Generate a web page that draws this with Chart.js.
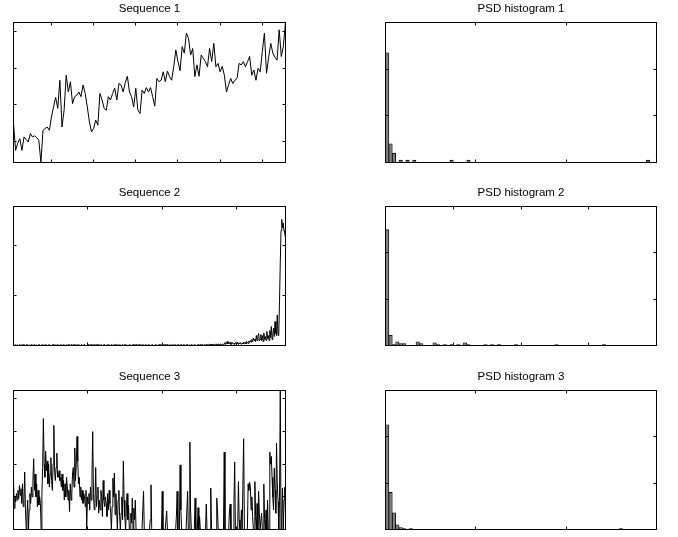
<!DOCTYPE html>
<html>
<head>
<meta charset="utf-8">
<title>Sequences and PSD histograms</title>
<script src="https://cdn.jsdelivr.net/npm/chart.js@4.4.1/dist/chart.umd.min.js"></script>
<style>
  html, body { margin: 0; padding: 0; background: #fff; }
  #page { position: relative; width: 678px; height: 537px; overflow: hidden; }
  #page canvas { position: absolute; }
</style>
</head>
<body>
<div id="page">
  <canvas id="seq1" width="280" height="166" style="left:10px;top:0px"></canvas>
  <canvas id="psd1" width="280" height="166" style="left:382px;top:0px"></canvas>
  <canvas id="seq2" width="280" height="165" style="left:10px;top:184px"></canvas>
  <canvas id="psd2" width="280" height="165" style="left:382px;top:184px"></canvas>
  <canvas id="seq3" width="280" height="165" style="left:10px;top:368px"></canvas>
  <canvas id="psd3" width="280" height="165" style="left:382px;top:368px"></canvas>
</div>
<script>
(function () {
  'use strict';

  /* ── Data ────────────────────────────────────────────────────────── */

  // Sequence 1: 130 samples, x = 2..131
  var seq1Start = 2;
  var seq1 = [
    1.49, 0.75, 0.95, 1.07, 0.75, 1.12, 1.05, 0.98, 1.21, 1.12,
    1.15, 1.10, 1.03, 0.42, 1.30, 1.35, 1.39, 1.30, 1.67, 1.94,
    2.20, 1.90, 2.67, 1.39, 1.85, 2.81, 2.35, 2.63, 2.03, 2.22,
    2.26, 2.35, 2.22, 2.54, 2.31, 1.94, 1.53, 1.26, 1.35, 1.58,
    1.44, 2.31, 2.13, 1.90, 1.85, 2.22, 2.13, 2.31, 2.45, 2.13,
    2.58, 2.54, 2.35, 2.60, 2.78, 2.35, 2.22, 1.94, 2.45, 1.85,
    1.76, 2.40, 2.31, 2.47, 2.35, 2.47, 2.22, 1.96, 2.72, 2.63,
    2.67, 2.90, 2.63, 2.92, 2.77, 2.67, 3.04, 3.50, 3.18, 2.93,
    3.59, 3.41, 3.96, 3.82, 3.36, 3.54, 2.77, 3.09, 2.78, 3.36,
    3.27, 3.18, 3.04, 3.54, 3.18, 3.68, 3.04, 3.13, 2.90, 3.05,
    2.81, 2.35, 2.55, 2.72, 2.58, 2.67, 2.72, 3.13, 3.09, 3.18,
    3.04, 3.18, 3.32, 2.81, 2.95, 2.67, 3.00, 2.90, 3.45, 3.96,
    2.86, 3.30, 3.68, 3.41, 3.30, 3.22, 4.05, 3.32, 3.60, 4.25
  ];

  // Sequence 2: 365 samples, x = 1..365
  var seq2Start = 1;
  var seq2 = [
    0.01, 0, 0.01, 0.02, 0, 0.01, 0.01, 0, 0.02, 0.01, 0, 0.01, 0.01, 0.02, 0, 0.01, 0, 0.01, 0.02, 0.01,
    0, 0.01, 0.01, 0, 0.02, 0.01, 0, 0.01, 0.02, 0, 0.01, 0.01, 0, 0.01, 0.02, 0.01, 0, 0.01, 0, 0.02,
    0.01, 0.01, 0, 0.02, 0.01, 0, 0.01, 0.01, 0.02, 0, 0.01, 0, 0.01, 0.02, 0.01, 0, 0.01, 0.01, 0, 0.02,
    0.01, 0, 0.01, 0.01, 0.02, 0, 0.01, 0.02, 0.01, 0, 0.01, 0.01, 0, 0.02, 0.01, 0.01, 0, 0.01, 0.02, 0,
    0.01, 0.02, 0, 0.01, 0.01, 0, 0.02, 0.01, 0.01, 0, 0.01, 0.02, 0, 0.01, 0.01, 0.02, 0, 0.01, 0, 0.01,
    0.02, 0.01, 0, 0.01, 0.02, 0.01, 0, 0.01, 0.01, 0.02, 0, 0.01, 0.02, 0, 0.01, 0.01, 0, 0.02, 0.01, 0,
    0.01, 0.01, 0.02, 0, 0.01, 0, 0.01, 0.02, 0.01, 0.01, 0, 0.02, 0.01, 0, 0.01, 0.01, 0.02, 0, 0.01, 0.01,
    0, 0.02, 0.01, 0.01, 0, 0.01, 0.02, 0, 0.01, 0.01, 0.02, 0.01, 0, 0.01, 0, 0.02, 0.01, 0.01, 0, 0.01,
    0.02, 0, 0.01, 0.01, 0.02, 0.01, 0, 0.01, 0.02, 0, 0.01, 0.01, 0, 0.02, 0.01, 0, 0.01, 0.02, 0.01, 0,
    0.01, 0.02, 0.01, 0, 0.01, 0.01, 0.02, 0, 0.01, 0, 0.02, 0.01, 0.01, 0, 0.01, 0.02, 0, 0.01, 0.01, 0.02,
    0, 0.01, 0.01, 0.02, 0, 0.01, 0.02, 0.01, 0, 0.01, 0.01, 0, 0.02, 0.01, 0.01, 0, 0.02, 0.01, 0, 0.01,
    0.01, 0.02, 0, 0.01, 0.01, 0.02, 0, 0.01, 0.02, 0.01, 0, 0.01, 0.01, 0.02, 0, 0.01, 0.01, 0, 0.02, 0.01,
    0.01, 0, 0.02, 0.01, 0.01, 0, 0.01, 0.02, 0.01, 0, 0.02, 0.01, 0.01, 0.02, 0, 0.01, 0.02, 0.01, 0.02, 0.01,
    0.02, 0.01, 0.02, 0.03, 0.01, 0.02, 0.01, 0.03, 0.02, 0.01, 0.02, 0.03, 0.02, 0.01, 0.03, 0.02, 0.02, 0.03, 0.01, 0.02,
    0.03, 0.02, 0.03,
    0.06, 0.02, 0.05, 0.08, 0.03, 0.06, 0.04, 0.07, 0.02, 0.04,
    0.06, 0.03, 0.05, 0.02, 0.06, 0.04, 0.03, 0.07, 0.02, 0.05,
    0.04, 0.06, 0.02, 0.05, 0.03, 0.07, 0.04, 0.06, 0.03, 0.08,
    0.05, 0.04, 0.09, 0.06, 0.10, 0.07, 0.12, 0.08, 0.15, 0.10,
    0.13, 0.08, 0.20, 0.10, 0.18, 0.24, 0.09, 0.12, 0.22, 0.10,
    0.20, 0.08, 0.25, 0.12, 0.18, 0.10, 0.28, 0.14, 0.20, 0.10,
    0.30, 0.16, 0.38, 0.12, 0.22, 0.35, 0.18, 0.48, 0.25, 0.20,
    0.61, 0.20, 0.22, 0.90, 1.65, 2.30, 2.52, 2.35, 2.45, 2.30,
    2.25, 2.15
  ];

  // Sequence 3: 365 samples, x = 1..365
  var seq3Start = 1;
  var seq3 = [
    1.52, 0.65, 1.0, 0.85, 1.1, 0.9, 1.2, 0.95, 1.35, 1.05,
    1.25, 0.8, 1.4, 0.7, 0.9, 1.76, 0.6, 0, 0.45, 0.9,
    0, 0.6, 1.1, 0.8, 1.3, 1.0, 1.5, 2.17, 1.2, 1.7,
    1.0, 1.4, 0.7, 1.2, 0.75, 1.0, 0.8, 0, 1.1, 1.9,
    3.4, 2.0, 1.6, 2.4, 1.8, 2.1, 1.4, 2.0, 1.3, 1.7,
    2.2, 1.5, 1.2, 2.0, 3.19, 1.8, 1.5, 1.9, 2.34, 1.6,
    1.6, 1.8, 1.5, 1.6, 1.3, 1.7, 1.2, 1.5, 0.9, 1.4,
    1.0, 1.6, 1.3, 0.9, 1.2, 0.55, 1.4, 0.9, 1.1, 1.7,
    1.9, 1.3, 2.5, 1.5, 2.0, 2.85, 2.1, 1.4, 1.6, 1.0,
    1.3, 0.9, 1.2, 0.8, 1.1, 1.0, 0.7, 1.2, 0, 1.0,
    0.8, 1.1, 0.6, 1.3, 0.9, 1.6, 3.0, 1.1, 0.6, 0.8,
    1.9, 0.7, 1.0, 1.3, 0.5, 0.9, 0.6, 1.2, 1.0, 0.4,
    1.5, 0.9, 0.7, 1.0, 0.8, 0.4, 1.1, 0.6, 1.2, 0.8,
    0.5, 0, 0.7, 1.57, 1.0, 1.73, 0.45, 1.1, 0.6, 0,
    0.9, 1.2, 0.4, 0, 0.5, 1.0, 0.3, 2.1, 0.9, 0.4,
    0, 0.6, 1.1, 0.3, 0.75, 0, 0, 0.5, 0.2, 0.96,
    0, 0.65, 0.3, 0.9, 0, 0, 0, 0, 0, 0,
    0, 0, 0, 0, 1.17, 0, 0, 0, 0, 0,
    0, 0, 0, 0.3, 1.37, 0, 0, 0, 0, 0,
    0, 0, 0, 0, 0, 0, 0, 0, 0, 1.17,
    0, 0, 0, 0, 0, 0.57, 0, 0, 0, 0,
    0, 0, 0, 0, 0, 0, 0, 0, 0.4, 1.17,
    0, 0, 0, 1.98, 0.6, 0, 0, 0, 0, 0,
    0, 0, 0, 1.17, 0, 0, 2.68, 0.57, 0, 0,
    0, 0, 0, 0.96, 0, 0, 0, 0.67, 0, 0.4,
    0, 0, 0, 0, 0, 0, 0, 0, 0.78, 0,
    0, 0, 0, 0, 1.27, 0, 0, 0, 0, 0,
    0, 0, 0.96, 0.57, 0, 0, 0, 0, 0, 0,
    0, 0, 2.37, 0, 0, 0, 0, 0, 0, 0.57,
    0.78, 0, 0, 0, 0, 0.8, 2.07, 0, 0, 0,
    0, 1.47, 0.3, 0, 0, 0.6, 0, 0, 2.78, 0,
    0, 0, 0, 0, 1.4, 1.2, 1.45, 1.27, 0.6, 1.0,
    0.4, 0, 0, 1.47, 0.4, 0, 0.8, 0, 1.17, 0.5,
    0, 0, 0.5, 0, 0, 1.39, 0.3, 0, 0.6, 0,
    0.9, 0, 0, 2.37, 2.0, 2.24, 1.6, 1.0, 0.6, 1.88,
    1.2, 0.5, 2.65, 1.4, 0.86, 0, 1.0, 4.26, 0, 0.4,
    1.27, 0, 0.9, 1.3, 0.5
  ];

  // PSD histograms: counts in 80 equal bins
  var psd1Counts = [
    47, 8, 4, 0, 1, 0, 1, 0, 1, 0, 0, 0, 0, 0, 0, 0, 0, 0, 0, 1,
    0, 0, 0, 0, 1, 0, 0, 0, 0, 0, 0, 0, 0, 0, 0, 0, 0, 0, 0, 0,
    0, 0, 0, 0, 0, 0, 0, 0, 0, 0, 0, 0, 0, 0, 0, 0, 0, 0, 0, 0,
    0, 0, 0, 0, 0, 0, 0, 0, 0, 0, 0, 0, 0, 0, 0, 0, 0, 1, 0, 0
  ];
  var psd2Counts = [
    125, 11, 1, 4, 2, 2, 0, 0, 0, 4, 2, 0, 0, 0, 3, 1, 0, 1, 0, 1,
    0, 1, 0, 3, 1, 0, 0, 0, 0, 1, 0, 1, 0, 1, 0, 0, 0, 0, 1, 0,
    0, 0, 0, 0, 0, 0, 0, 0, 0, 0, 1, 0, 0, 0, 0, 0, 0, 0, 0, 0,
    0, 0, 0, 0, 1, 0, 0, 0, 0, 0, 0, 0, 0, 0, 0, 0, 0, 0, 0, 0
  ];
  var psd3Counts = [
    113, 40, 18, 5, 2, 1, 0, 1, 0, 0, 0, 0, 0, 0, 0, 0, 0, 0, 0, 0,
    0, 0, 0, 0, 0, 0, 0, 0, 0, 0, 0, 0, 0, 0, 0, 0, 0, 0, 0, 0,
    0, 0, 0, 0, 0, 0, 0, 0, 0, 0, 0, 0, 0, 0, 0, 0, 0, 0, 0, 0,
    0, 0, 0, 0, 0, 0, 0, 0, 0, 1, 0, 0, 0, 0, 0, 0, 0, 0, 0, 0
  ];

  // Axis limits and tick positions (no tick labels in the figure)
  var seq1XTicks = [20, 40, 60, 80, 100, 120];
  var seq1YTicks = [1, 2, 3, 4];
  var seq23XTicks = [100, 200, 300];
  var seq2YTicks = [1, 2];
  var seq2YMax = 2.78;
  var seq3YTicks = [1, 2, 3, 4];
  var psd13XMax = 3;
  var psd2XMax = 4;
  var psd13XTicks = [1, 2];
  var psd2XTicks = [1, 2, 3];
  var psd1YMax = 60;
  var psd1YTicks = [20, 40];
  var psd23YMax = 150;
  var psd23YTicks = [50, 100];

  /* ── Style ───────────────────────────────────────────────────────── */

  var FONT_FAMILY = "'Liberation Sans', Arial, Helvetica, sans-serif";
  var TICK_LEN = 3;
  var BAR_FILL = '#808080';

  Chart.defaults.font.family = FONT_FAMILY;
  Chart.defaults.color = '#000';
  Chart.defaults.animation = false;

  /* ── Helpers ─────────────────────────────────────────────────────── */

  // MATLAB-like box with inward ticks on all four sides
  function boxPlugin(xTicks, yTicks) {
    return {
      id: 'matlabBox',
      afterDraw: function (chart) {
        var a = chart.chartArea;
        var ctx = chart.ctx;
        var xs = chart.scales.x;
        var ys = chart.scales.y;
        ctx.save();
        ctx.strokeStyle = '#000';
        ctx.lineWidth = 1;
        ctx.beginPath();
        xTicks.forEach(function (v) {
          var px = Math.floor(xs.getPixelForValue(v)) + 0.5;
          ctx.moveTo(px, a.top);
          ctx.lineTo(px, a.top + TICK_LEN);
          ctx.moveTo(px, a.bottom);
          ctx.lineTo(px, a.bottom - TICK_LEN);
        });
        yTicks.forEach(function (v) {
          var py = Math.floor(ys.getPixelForValue(v)) + 0.5;
          ctx.moveTo(a.left, py);
          ctx.lineTo(a.left + TICK_LEN, py);
          ctx.moveTo(a.right, py);
          ctx.lineTo(a.right - TICK_LEN, py);
        });
        ctx.stroke();
        ctx.strokeRect(a.left, a.top, a.right - a.left, a.bottom - a.top);
        ctx.restore();
      }
    };
  }

  function baseOptions(title, rightPad, xScale, yScale) {
    return {
      responsive: false,
      devicePixelRatio: 1,
      events: [],
      layout: { padding: { top: 0, left: 3.5, right: rightPad, bottom: 3.5 } },
      scales: { x: xScale, y: yScale },
      plugins: {
        legend: { display: false },
        tooltip: { enabled: false },
        title: {
          display: true,
          text: title,
          color: '#000',
          font: { family: FONT_FAMILY, size: 11.5, weight: 'normal', lineHeight: 1.2 },
          padding: { top: 1.6, bottom: 7.1 }
        }
      }
    };
  }

  function lineChart(id, title, values, start, yMin, yMax, xTicks, yTicks) {
    var pts = values.map(function (v, i) { return { x: start + i, y: v }; });
    new Chart(document.getElementById(id), {
      type: 'line',
      data: {
        datasets: [{
          data: pts,
          borderColor: '#000',
          borderWidth: 1,
          pointRadius: 0,
          tension: 0,
          fill: false
        }]
      },
      options: baseOptions(title, 4.5,
        { type: 'linear', display: false, min: start, max: start + values.length - 1 },
        { type: 'linear', display: false, min: yMin, max: yMax }),
      plugins: [boxPlugin(xTicks, yTicks)]
    });
  }

  function histChart(id, title, counts, xMax, yMax, xTicks, yTicks) {
    var binW = xMax / counts.length;
    var pts = counts.map(function (c, i) { return { x: (i + 0.5) * binW, y: c }; });
    new Chart(document.getElementById(id), {
      type: 'bar',
      data: {
        datasets: [{
          data: pts,
          backgroundColor: BAR_FILL,
          borderColor: '#000',
          borderWidth: 0.8,
          borderSkipped: 'start',
          barPercentage: 1,
          categoryPercentage: 1
        }]
      },
      options: baseOptions(title, 5.5,
        { type: 'linear', display: false, min: 0, max: xMax, offset: false, grid: { offset: false } },
        { type: 'linear', display: false, min: 0, max: yMax }),
      plugins: [boxPlugin(xTicks, yTicks)]
    });
  }

  /* ── Build the six panels ────────────────────────────────────────── */

  lineChart('seq1', 'Sequence 1', seq1, seq1Start,
    Math.min.apply(null, seq1), Math.max.apply(null, seq1), seq1XTicks, seq1YTicks);
  lineChart('seq2', 'Sequence 2', seq2, seq2Start, 0, seq2YMax, seq23XTicks, seq2YTicks);
  lineChart('seq3', 'Sequence 3', seq3, seq3Start,
    0, Math.max.apply(null, seq3), seq23XTicks, seq3YTicks);

  histChart('psd1', 'PSD histogram 1', psd1Counts, psd13XMax, psd1YMax, psd13XTicks, psd1YTicks);
  histChart('psd2', 'PSD histogram 2', psd2Counts, psd2XMax, psd23YMax, psd2XTicks, psd23YTicks);
  histChart('psd3', 'PSD histogram 3', psd3Counts, psd13XMax, psd23YMax, psd13XTicks, psd23YTicks);
})();
</script>
</body>
</html>
